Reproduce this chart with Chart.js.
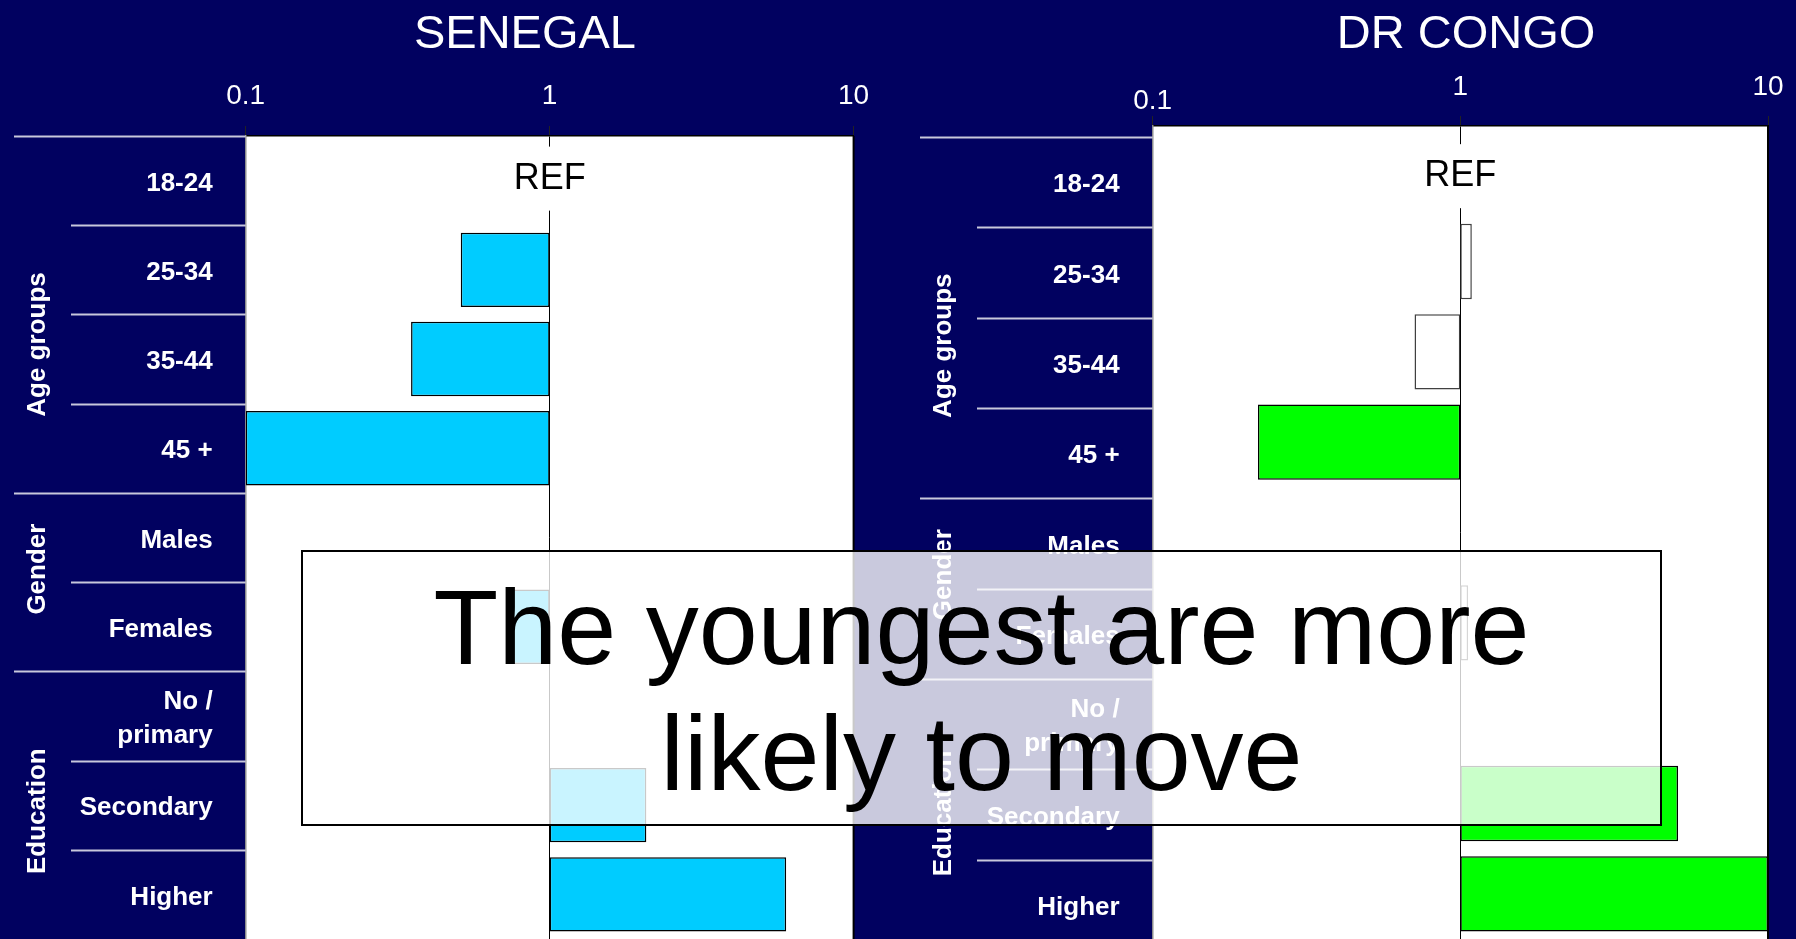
<!DOCTYPE html>
<html>
<head>
<meta charset="utf-8">
<script src="https://cdn.jsdelivr.net/npm/chart.js@4.4.1/dist/chart.umd.min.js"></script>
<style>
  html, body { margin: 0; padding: 0; }
  body {
    width: 1796px; height: 939px; overflow: hidden; position: relative;
    background: #010160;
    font-family: "Liberation Sans", Arial, sans-serif;
  }
  canvas { position: absolute; top: 0; }
  #senegal { left: 0; }
  #congo { left: 906px; }
  .title {
    position: absolute; top: 31px; color: #fff; font-size: 47px; line-height: 1;
    transform: translate(-50%, -50%); white-space: nowrap;
  }
  #note {
    position: absolute; left: 301px; top: 550px; width: 1361px; height: 276px;
    box-sizing: border-box; border: 2px solid #000;
    background: rgba(255, 255, 255, 0.79);
    padding-top: 12px; text-align: center;
    font-size: 106px; line-height: 126px; color: #000;
  }
</style>
</head>
<body>
<canvas id="senegal" width="900" height="939"></canvas>
<canvas id="congo" width="890" height="939"></canvas>
<div class="title" style="left:525px">SENEGAL</div>
<div class="title" style="left:1466px">DR CONGO</div>
<div id="note">The youngest are more<br>likely to move</div>

<script>
// rows of the forest plot
const categories = ['18-24', '25-34', '35-44', '45 +', 'Males', 'Females', ['No /', 'primary'], 'Secondary', 'Higher'];
const groupNames = ['Age groups', 'Gender', 'Education'];
const groupSizes = [4, 2, 3];
const refIndex = 0;
const refText = 'REF';

// log axis
const tickValues = [0.1, 1, 10];
const tickLabels = ['0.1', '1', '10'];

// odds ratios (null = no bar)
const senegalOdds = [null, 0.51, 0.35, 0.1, null, 0.75, null, 2.08, 6.0];
const senegalSignif = [false, true, true, true, false, true, false, true, true];
const congoOdds = [null, 1.09, 0.71, 0.22, null, 1.06, null, 5.1, 10];
const congoSignif = [false, false, false, true, false, false, false, true, true];

const FONT = '"Liberation Sans", Arial, sans-serif';

const plotDecor = {
  id: 'plotDecor',
  beforeDraw(chart) {
    const { ctx, chartArea: a } = chart;
    ctx.save();
    ctx.fillStyle = '#ffffff';
    ctx.fillRect(a.left, a.top, a.right - a.left, a.bottom - a.top);
    ctx.restore();
  },
  afterDatasetsDraw(chart, args, opts) {
    const { ctx, chartArea: a, scales: { x, y } } = chart;
    // REF label over the line at 1
    const cx = x.getPixelForValue(1);
    const cy = y.getPixelForValue(refIndex) + opts.refNudge;
    ctx.save();
    ctx.font = '36px ' + FONT;
    const w = ctx.measureText(refText).width;
    ctx.fillStyle = '#ffffff';
    ctx.fillRect(cx - w / 2 - 4, cy - 32, w + 8, 64);
    ctx.fillStyle = '#000000';
    ctx.textAlign = 'center';
    ctx.textBaseline = 'middle';
    ctx.fillText(refText, cx, cy);
    // right edge of plot
    ctx.strokeStyle = '#000000';
    ctx.lineWidth = 2;
    ctx.beginPath();
    ctx.moveTo(a.right, a.top);
    ctx.lineTo(a.right, a.bottom);
    ctx.stroke();
    ctx.restore();
  },
  afterDraw(chart, args, opts) {
    const { ctx, chartArea: a, scales: { y } } = chart;
    const edge = k => k === 0 ? a.top : (y.getPixelForValue(k - 1) + y.getPixelForValue(k)) / 2;
    const starts = [];
    let s = 0;
    groupSizes.forEach(n => { starts.push(s); s += n; });
    ctx.save();
    ctx.strokeStyle = '#c8c8dc';
    ctx.lineWidth = 2;
    for (let k = 0; k < categories.length; k++) {
      const yy = Math.round(edge(k) + opts.sepOffset) + 0.5;
      const x0 = starts.includes(k) ? 14 : 71;
      ctx.beginPath();
      ctx.moveTo(x0, yy);
      ctx.lineTo(a.left, yy);
      ctx.stroke();
    }
    // rotated group names
    ctx.fillStyle = '#ffffff';
    ctx.font = 'bold 26px ' + FONT;
    ctx.textAlign = 'center';
    ctx.textBaseline = 'middle';
    starts.forEach((st, g) => {
      const top = edge(st);
      const last = st + groupSizes[g] - 1;
      const bottom = last === categories.length - 1 ? a.bottom : edge(last + 1);
      const cy = (top + bottom) / 2 + opts.groupNudge[g];
      ctx.save();
      ctx.translate(38, cy);
      ctx.rotate(-Math.PI / 2);
      ctx.fillText(groupNames[g], 0, 0);
      ctx.restore();
    });
    ctx.restore();
  }
};

function makeChart(id, odds, signif, fill, st) {
  const data = odds.map(v => v == null ? null : (v < 1 ? [v, 1] : [1, v]));
  return new Chart(document.getElementById(id), {
    type: 'bar',
    data: {
      labels: categories,
      datasets: [{
        data: data,
        backgroundColor: signif.map(f => f ? fill : '#ffffff'),
        borderColor: signif.map(f => f ? '#000000' : '#404040'),
        borderWidth: 1.5,
        borderSkipped: false,
        barPercentage: 0.834,
        categoryPercentage: 1
      }]
    },
    options: {
      indexAxis: 'y',
      responsive: false,
      animation: false,
      devicePixelRatio: 1,
      layout: { padding: { left: 0, right: st.padRight, top: 0, bottom: 0 } },
      plugins: {
        legend: { display: false },
        tooltip: { enabled: false },
        plotDecor: { refNudge: st.refNudge, sepOffset: st.sepOffset, groupNudge: st.groupNudge }
      },
      scales: {
        x: {
          type: 'logarithmic',
          position: 'top',
          min: 0.1,
          max: 10,
          afterBuildTicks: axis => { axis.ticks = tickValues.map(v => ({ value: v })); },
          afterFit: axis => {
            axis.height = st.plotTop;
            axis.paddingLeft = 0; axis.paddingRight = 0;
          },
          border: { display: true, color: '#000000', width: 1.5 },
          grid: {
            color: c => (c.tick && c.tick.value === 1) ? '#000000' : 'rgba(0,0,0,0)',
            tickColor: '#222222',
            tickLength: 10,
            lineWidth: 1
          },
          ticks: {
            color: '#ffffff',
            padding: st.tickPad,
            maxRotation: 0,
            autoSkip: false,
            font: c => ({ family: FONT, size: 28, lineHeight: st.tickLH[c.index] }),
            callback: (value, index) => tickLabels[index]
          }
        },
        y: {
          type: 'category',
          afterFit: axis => {
            axis.width = st.plotLeft;
            axis.paddingTop = 0; axis.paddingBottom = 0;
          },
          border: { display: true, color: '#8c8c8c', width: 1.5 },
          grid: { display: false, drawTicks: false },
          ticks: {
            color: '#ffffff',
            padding: 33,
            labelOffset: st.labelOffset,
            font: { family: FONT, size: 26, weight: 'bold', lineHeight: 1.3 }
          }
        }
      }
    },
    plugins: [plotDecor]
  });
}

makeChart('senegal', senegalOdds, senegalSignif, '#00ccff', {
  plotLeft: 245.7, padRight: 46.4, plotTop: 136, tickPad: 13,
  tickLH: [1.2, 1.2, 1.2], labelOffset: 3, refNudge: -2, sepOffset: 0,
  groupNudge: [30, -13, 6]
});

makeChart('congo', congoOdds, congoSignif, '#00ff00', {
  plotLeft: 246.6, padRight: 28, plotTop: 126, tickPad: 12.2,
  tickLH: [0.21, 1.2, 1.2], labelOffset: 14, refNudge: 5, sepOffset: 11,
  groupNudge: [39, -3, 10]
});
</script>
</body>
</html>
